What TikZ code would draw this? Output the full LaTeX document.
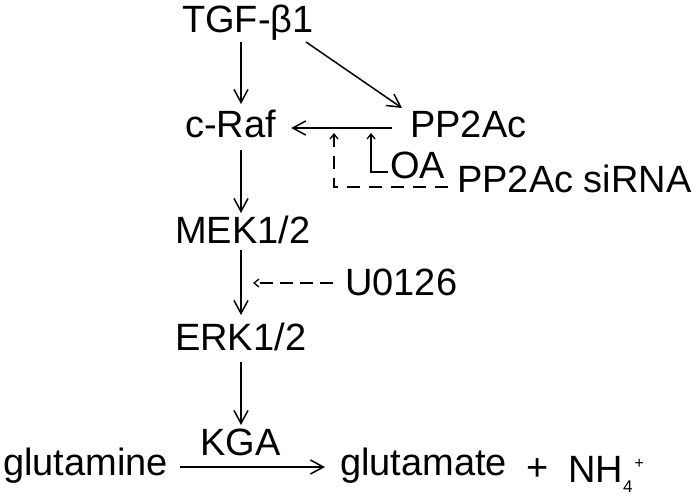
\documentclass[tikz,border=0pt]{standalone}
\usepackage{fontspec}
\setmainfont{Liberation Sans}
\usetikzlibrary{arrows.meta}
\begin{document}
\begin{tikzpicture}[x=1pt,y=-1pt,
  lbl/.style={inner sep=0pt,anchor=base west,font=\fontsize{38}{40}\selectfont},
  arr/.style={line width=1.5pt,-{Straight Barb[length=13pt,width=14pt]}},
  sarr/.style={line width=1.3pt,-{Straight Barb[length=5pt,width=8pt]}},
  dsh/.style={dash pattern=on 13pt off 9pt}
]
\useasboundingbox (0,0) rectangle (700,499);
\coordinate (ax) at (241,0);
\node[lbl] (tgf) at (182,32) {TGF-β1};
\node[lbl] (craf) at (185,137) {c-Raf};
\node[lbl] (pp2ac) at (410,137) {PP2Ac};
\node[lbl] (oa) at (390,178) {OA};
\node[lbl] (sirna) at (457,192) {PP2Ac siRNA};
\node[lbl] (mek) at (175,243) {MEK1/2};
\node[lbl] (u0126) at (345,295) {U0126};
\node[lbl] (erk) at (175,350) {ERK1/2};
\node[lbl] (kga) at (200,455) {KGA};
\node[lbl] (gln) at (3,475) {glutamine};
\node[lbl] (glu) at (340,475) {glutamate};
\node[lbl] (plus) at (526,480) {+};
\node[lbl] (nh4) at (568,482) {NH\raisebox{-10pt}{\fontsize{17}{17}\selectfont 4}\kern2pt\raisebox{14pt}{\fontsize{16}{16}\selectfont +}};
% main cascade
\draw[arr] ([yshift=-10pt]tgf.base -| ax) -- ([yshift=33pt]craf.base -| ax);
\draw[arr] ([xshift=-8pt,yshift=-10pt]tgf.base east) -- ([xshift=-8pt,yshift=29pt]pp2ac.base west);
\draw[arr] ([xshift=-18pt,yshift=9pt]pp2ac.base west) -- ([xshift=15pt,yshift=9pt]craf.base east);
\draw[arr] ([yshift=-13pt]craf.base -| ax) -- ([yshift=30pt]mek.base -| ax);
\draw[arr] ([yshift=-7pt]mek.base -| ax) -- ([yshift=35pt]erk.base -| ax);
\draw[arr] ([yshift=-12pt]erk.base -| ax) -- ([yshift=30pt]kga.base -| ax);
\draw[arr] ([xshift=12pt,yshift=8pt]gln.base east) -- ([xshift=-15pt,yshift=8pt]glu.base west);
% inhibitors
\draw[sarr] ([xshift=-2pt,yshift=6pt]oa.base west) -| ([xshift=-19pt,yshift=45pt]oa.base west);
\draw[sarr,dsh] ([xshift=-9pt,yshift=5pt]sirna.base west) -| ([xshift=-123pt,yshift=59pt]sirna.base west);
\draw[sarr,dash pattern=on 13pt off 7pt] ([xshift=-12pt,yshift=12pt]u0126.base west) -- ([xshift=-92pt,yshift=12pt]u0126.base west);
\end{tikzpicture}
\end{document}
